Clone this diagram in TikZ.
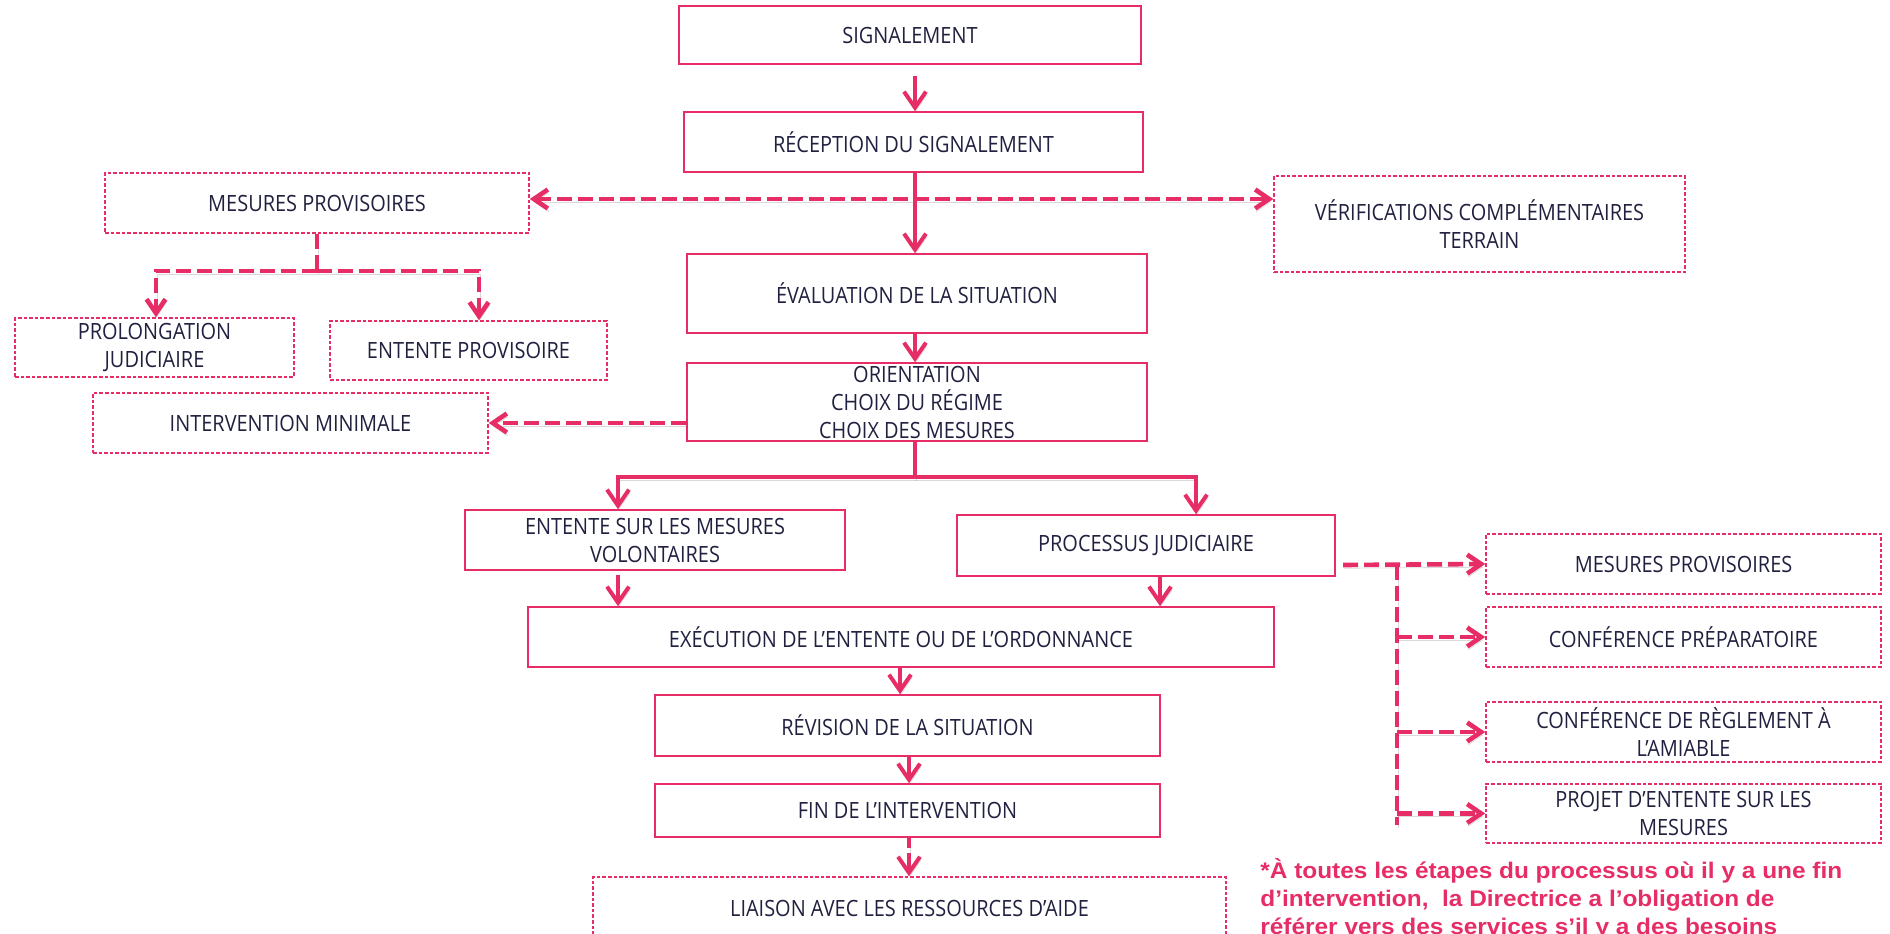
\documentclass[tikz,border=0pt]{standalone}
\usepackage{fontspec}
\newfontfamily\boxfont{Open Sans}[FakeStretch=0.89]
\newfontfamily\notefont{Liberation Sans}[FakeStretch=1.08]
\usetikzlibrary{arrows.meta,calc}
\definecolor{pk}{RGB}{231,45,102}
\definecolor{ink}{RGB}{32,32,64}
\tikzset{
  box/.style={draw=pk, line width=0.85pt, rectangle, inner sep=0pt, align=center,
    text=ink, font=\boxfont\fontsize{11.2}{14}\selectfont},
  dbox/.style={box, line width=0.75pt, dash pattern=on 1.8pt off 1pt},
  lshadow/.style={preaction={draw=black, draw opacity=0.15,
    transform canvas={xshift=0.5pt,yshift=-1.6pt}}},
  sline/.style={draw=pk, line width=2pt, lshadow,
    -{Straight Barb[length=8pt,width=11pt]}},
  dline/.style={draw=pk, line width=2.3pt, dash pattern=on 7.5pt off 3pt, lshadow},
  dtip/.style={-{Straight Barb[length=7pt,width=9.5pt]}},
  dboth/.style={{Straight Barb[length=7pt,width=9.5pt]}-{Straight Barb[length=7pt,width=9.5pt]}},
  note/.style={text=pk, inner sep=0pt, anchor=base west,
    font=\notefont\bfseries\fontsize{11.3}{14}\selectfont}
}
\begin{document}
\begin{tikzpicture}[x=0.5pt, y=-0.5pt]
\useasboundingbox (0,0) rectangle (1890,933);

% main column
\node[box, minimum width=231pt, minimum height=29pt] (sig) at (910,35) {SIGNALEMENT};
\node[box, minimum width=229.5pt, minimum height=30pt] (rec) at (913.5,142) {RÉCEPTION DU SIGNALEMENT};
\node[box, minimum width=230pt, minimum height=39.5pt] (eva) at (917,293.5) {ÉVALUATION DE LA SITUATION};
\node[box, minimum width=230pt, minimum height=39pt] (ori) at (917,402) {ORIENTATION\\CHOIX DU RÉGIME\\CHOIX DES MESURES};
\node[box, minimum width=190pt, minimum height=30pt] (esm) at (655,540) {ENTENTE SUR LES MESURES\\VOLONTAIRES};
\node[box, minimum width=189pt, minimum height=30.5pt] (pj) at (1146,545.5) {PROCESSUS JUDICIAIRE};
\node[box, minimum width=373pt, minimum height=30pt] (exe) at (901,637) {EXÉCUTION DE L’ENTENTE OU DE L’ORDONNANCE};
\node[box, minimum width=252.5pt, minimum height=30.5pt] (rev) at (907.5,725.5) {RÉVISION DE LA SITUATION};
\node[box, minimum width=252.5pt, minimum height=26.5pt] (fin) at (907.5,810.5) {FIN DE L’INTERVENTION};
\node[dbox, minimum width=316.5pt, minimum height=31.5pt] (lia) at (909.5,908.5) {LIAISON AVEC LES RESSOURCES D’AIDE};

% side branches
\node[dbox, minimum width=212pt, minimum height=30pt] (mp) at (317,203) {MESURES PROVISOIRES};
\node[dbox, minimum width=205.5pt, minimum height=48pt] (ver) at (1479.5,224) {VÉRIFICATIONS COMPLÉMENTAIRES\\TERRAIN};
\node[dbox, minimum width=139.5pt, minimum height=29.5pt] (pro) at (154.5,347.5) {PROLONGATION\\JUDICIAIRE};
\node[dbox, minimum width=138.5pt, minimum height=29.5pt] (ent) at (468.5,350.5) {ENTENTE PROVISOIRE};
\node[dbox, minimum width=197.5pt, minimum height=30pt] (imi) at (290.5,423) {INTERVENTION MINIMALE};

% judicial branch
\node[dbox, minimum width=197.5pt, minimum height=30pt] (mpr) at (1683.5,564) {MESURES PROVISOIRES};
\node[dbox, minimum width=197.5pt, minimum height=30pt] (cpr) at (1683.5,637) {CONFÉRENCE PRÉPARATOIRE};
\node[dbox, minimum width=197.5pt, minimum height=30pt] (crg) at (1683.5,732) {CONFÉRENCE DE RÈGLEMENT À\\L’AMIABLE};
\node[dbox, minimum width=197.5pt, minimum height=29.5pt] (pje) at (1683.5,813.5) {PROJET D’ENTENTE SUR LES\\MESURES};

% footnote
\node[note] (fn1) at (1260,878) {*À toutes les étapes du processus où il y a une fin};
\node[note] (fn2) at (1260,906) {d’intervention,\ \ la Directrice a l’obligation de};
\node[note] (fn3) at (1260,934) {référer vers des services s’il y a des besoins};

% helper coordinates
\coordinate (xm) at (915,0);
\coordinate (hy) at (0,199);
\coordinate (mpb) at (316,271);
\coordinate (xpl) at (156,0);
\coordinate (xpr) at (479,0);
\coordinate (ob) at (915,477);
\coordinate (xl) at (618,0);
\coordinate (xr) at (1196,0);
\coordinate (xp) at (1160,0);
\coordinate (xe) at (900,0);
\coordinate (xf) at (909,0);
\coordinate (pjout) at (1343,565);
\coordinate (rb) at (1397,565);
\coordinate (rbend) at (1397,825);

% connectors
\draw[sline, shorten <=5.5pt] (sig.south -| xm) -- (rec.north -| xm);
\draw[dline, dboth] (mp.east |- hy) -- (ver.west |- hy);
\draw[sline] (rec.south -| xm) -- (eva.north -| xm);
\draw[dline] (mp.south) -- (mp.south |- mpb);
\draw[dline, dtip] (mp.south |- mpb) -| (pro.north -| xpl);
\draw[dline, dtip] (mp.south |- mpb) -| (ent.north -| xpr);
\draw[sline] (eva.south -| xm) -- (ori.north -| xm);
\draw[dline, dtip] (ori.west |- imi.east) -- (imi.east);
\draw[sline] (ori.south -| xm) -- (ob) -| (esm.north -| xl);
\draw[sline] (ob) -| (pj.north -| xr);
\draw[sline, shorten <=2pt] (esm.south -| xl) -- (exe.north -| xl);
\draw[sline] (pj.south -| xp) -- (exe.north -| xp);
\draw[sline] (exe.south -| xe) -- (rev.north -| xe);
\draw[sline] (rev.south -| xf) -- (fin.north -| xf);
\draw[sline, dash pattern=on 5pt off 2.5pt on 20pt off 1pt] (fin.south -| xf) -- (lia.north -| xf);
\draw[dline, dtip] (pjout) -- (mpr.west);
\draw[dline] (rb) -- (rbend);
\draw[dline, dtip] (rb |- cpr.west) -- (cpr.west);
\draw[dline, dtip] (rb |- crg.west) -- (crg.west);
\draw[dline, dtip] (rb |- pje.west) -- (pje.west);
\end{tikzpicture}
\end{document}
